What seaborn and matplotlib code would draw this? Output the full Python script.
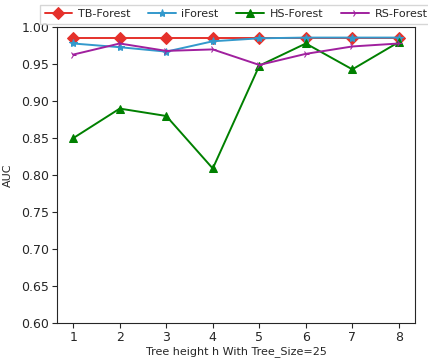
import pandas as pd
import matplotlib
matplotlib.use('Agg')
import matplotlib.pyplot as plt
import seaborn as sns

# Tree heights and AUC values per method
heights = [1, 2, 3, 4, 5, 6, 7, 8]
tb_forest = [0.985, 0.985, 0.985, 0.985, 0.985, 0.985, 0.985, 0.985]
i_forest = [0.978, 0.973, 0.967, 0.981, 0.985, 0.986, 0.986, 0.986]
hs_forest = [0.850, 0.890, 0.880, 0.809, 0.948, 0.978, 0.943, 0.980]
rs_forest = [0.963, 0.978, 0.968, 0.970, 0.949, 0.964, 0.974, 0.978]

methods = ['TB-Forest', 'iForest', 'HS-Forest', 'RS-Forest']
values = [tb_forest, i_forest, hs_forest, rs_forest]

df = pd.DataFrame({
    'h': heights * len(methods),
    'AUC': sum(values, []),
    'method': [m for m in methods for _ in heights],
})

sns.set_style('ticks')
plt.rcParams['font.family'] = ['DejaVu Sans']

colors = {'TB-Forest': '#e5312b', 'iForest': '#3399cc',
          'HS-Forest': '#008000', 'RS-Forest': '#a0209e'}
markers = {'TB-Forest': 'D', 'iForest': '*', 'HS-Forest': '^', 'RS-Forest': '4'}
msizes = {'TB-Forest': 6, 'iForest': 6, 'HS-Forest': 6, 'RS-Forest': 5}

fig, ax = plt.subplots(figsize=(4.28, 3.63), dpi=100)
for m in methods:
    sub = df[df['method'] == m]
    sns.lineplot(data=sub, x='h', y='AUC', ax=ax, color=colors[m],
                 marker=markers[m], markersize=msizes[m],
                 markeredgecolor=colors[m], label=m, linewidth=1.4)

ax.set_ylim(0.60, 1.00)
ax.set_xticks(heights)
ax.set_xlabel('Tree height h With Tree_Size=25', fontsize=8, labelpad=2)
ax.set_ylabel('AUC', fontsize=8, labelpad=6)
ax.tick_params(labelsize=9, length=3.5, pad=2)
ax.legend(loc='lower center', bbox_to_anchor=(0.5, 1.005), ncol=4,
          fontsize=8, frameon=True, borderaxespad=0.2, columnspacing=1.6,
          handlelength=2.5, handletextpad=0.5, fancybox=False,
          edgecolor='#cccccc')

fig.subplots_adjust(left=0.133, right=0.97, top=0.925, bottom=0.11)
fig.savefig('out.png', dpi=100)
